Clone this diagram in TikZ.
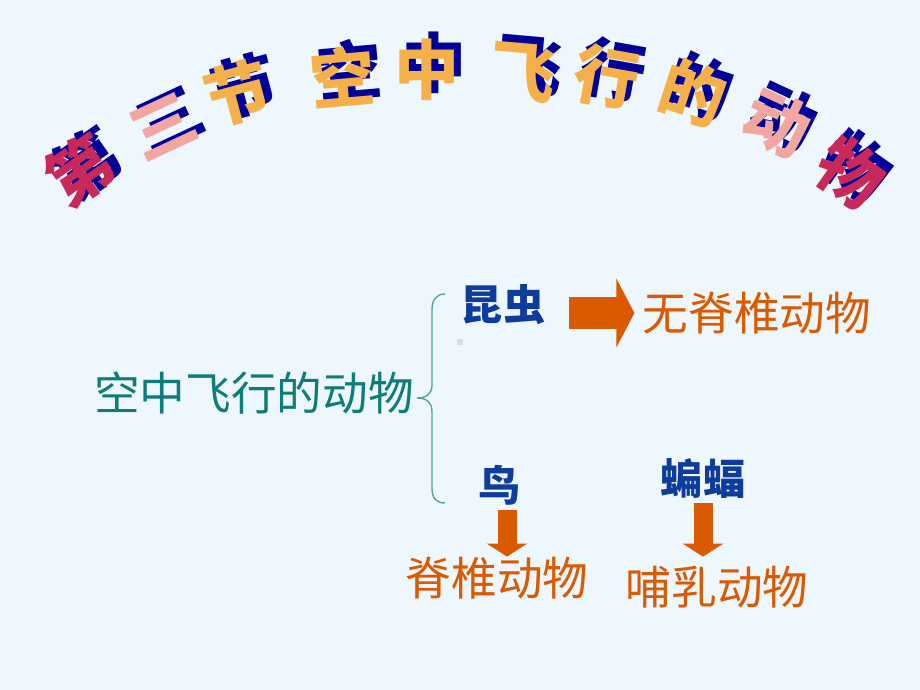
\documentclass[tikz,border=0pt]{standalone}
\usepackage{fontspec}
\newfontfamily\cjk{Noto Sans CJK SC}
\usepackage{tikz}
\usetikzlibrary{arrows.meta, positioning, calc}

\definecolor{bgblue}{HTML}{EEF6FE}
\definecolor{teal1}{HTML}{0E7C78}
\definecolor{blue1}{HTML}{0D3C9C}
\definecolor{orange1}{HTML}{DB5A00}
\definecolor{titlefill}{HTML}{F5B04A}
\definecolor{titlemid}{HTML}{F2A6A0}
\definecolor{titleend}{HTML}{C8285A}
\definecolor{titleshadow}{HTML}{000099}

\begin{document}
\begin{tikzpicture}[x=0.02cm,y=-0.02cm,
    main/.style={font=\cjk\fontsize{26}{28}\selectfont, text=teal1, inner sep=0pt},
    group/.style={font=\cjk\bfseries\fontsize{24}{26}\selectfont, text=blue1, inner sep=0pt},
    kind/.style={font=\cjk\fontsize{26}{28}\selectfont, text=orange1, inner sep=0pt},
    titlech/.style={font=\cjk\bfseries\fontsize{37}{40}\selectfont, inner sep=0pt},
    blockarrow/.style={draw=orange1, line width=0.64cm, -{Triangle[width=1.36cm,length=0.36cm,fill=orange1]}},
    downarrow/.style={draw=orange1, line width=0.38cm, -{Triangle[width=0.8cm,length=0.26cm,fill=orange1]}}]
    \fill[bgblue] (0,0) rectangle (920,690);
    \useasboundingbox (0,0) rectangle (920,690);
    % title along an arc
    \foreach \ch/\x/\y/\r/\c in {第/80/170/35/titleend, 三/163/127/25/titlemid, 节/237/93/15/titlefill,
        空/343/77/5/titlefill, 中/427/70/0/titlefill, 飞/523/73/-5/titlefill, 行/607/77/-10/titlefill,
        的/693/93/-18/titlefill, 动/777/123/-25/titlemid, 物/850/173/-35/titleend} {
        \node[titlech, text=titleshadow, rotate=\r] at (\x+7,\y-7) {\ch};
        \node[titlech, text=\c, rotate=\r] (t\x) at (\x,\y) {\ch};
    }
    \node[main] (fly) at (254,393) {空中飞行的动物};
    \node[group] (insect) at (503,305) {昆虫};
    \node[kind] (invert) at (757,313) {无脊椎动物};
    \node[group] (bird) at (500,485) {鸟};
    \node[group] (bat) at (703,478) {蝙蝠};
    \node[kind] (vert) at (497,578) {脊椎动物};
    \node[kind] (mammal) at (717,587) {哺乳动物};
    \fill[gray!25] (457,339) rectangle (463,345);
    % brace
    \draw[teal1!70, line width=0.8pt] (445,294) .. controls (436,294) and (432,300) .. (432,310)
        -- (432,385) .. controls (432,394) and (426,398) .. (417,398)
        .. controls (426,398) and (432,402) .. (432,412)
        -- (432,488) .. controls (432,498) and (436,503) .. (445,503);
    % arrows
    \draw[blockarrow] ($(insect.east)+(23,8)$) -- ($(invert.west)+(-8,0)$);
    \draw[downarrow] ($(bird.south)+(7,5)$) -- ($(vert.north)+(10,0)$);
    \draw[downarrow] ($(bat.south)+(0,5)$) -- ($(mammal.north)+(-14,-9)$);
\end{tikzpicture}
\end{document}
